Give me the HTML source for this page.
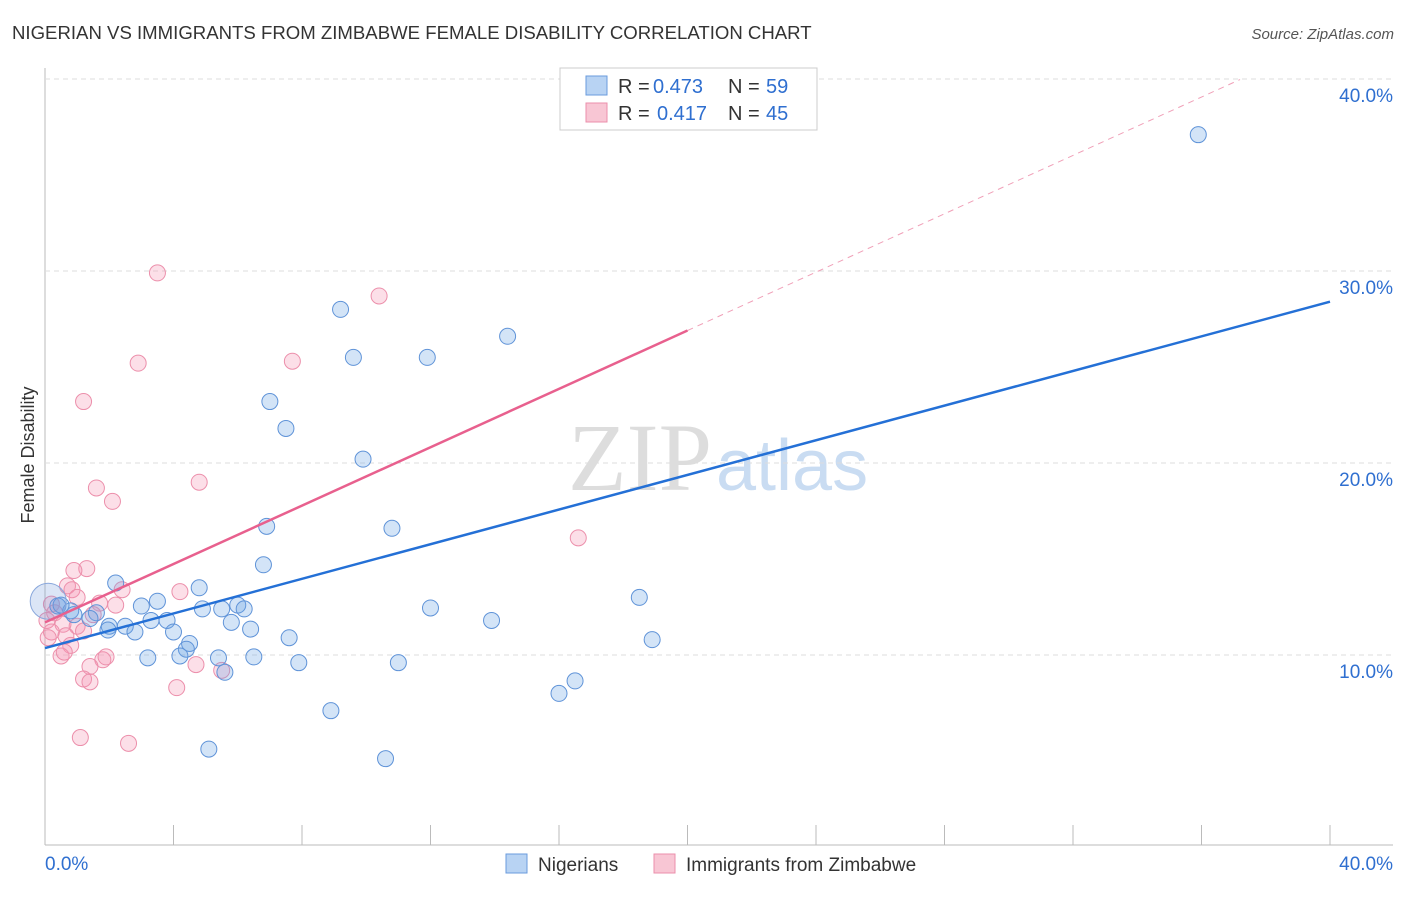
<!DOCTYPE html>
<html><head><meta charset="utf-8"><style>
body{margin:0;background:#fff;font-family:"Liberation Sans",sans-serif;}
</style></head><body>
<svg width="1406" height="892" id="chart" xmlns="http://www.w3.org/2000/svg">
<text x="12" y="39" font-size="18.6" fill="#333">NIGERIAN VS IMMIGRANTS FROM ZIMBABWE FEMALE DISABILITY CORRELATION CHART</text>
<text x="1394" y="39" font-size="15" fill="#555" font-style="italic" text-anchor="end">Source: ZipAtlas.com</text>
<text x="712" y="490" font-size="96" fill="#ddd" font-family="Liberation Serif,serif" text-anchor="end">ZIP</text>
<text x="716" y="490" font-size="72" fill="#c9dcf2">atlas</text>
<text transform="translate(34,455) rotate(-90)" font-size="18" fill="#333" text-anchor="middle">Female Disability</text>
<g id="grid"></g><g id="marks"></g>
<g>
<rect x="560" y="68" width="257" height="62" fill="#fff" stroke="#ccc"/>
<rect x="586" y="76" width="21" height="19" fill="#b8d3f3" stroke="#6a9bdc"/>
<rect x="586" y="103" width="21" height="19" fill="#f8c6d4" stroke="#eb8fab"/>
<text x="618" y="93" font-size="20" fill="#333">R =</text>
<text x="653" y="93" font-size="20" fill="#2f6fd0">0.473</text>
<text x="728" y="93" font-size="20" fill="#333">N =</text>
<text x="766" y="93" font-size="20" fill="#2f6fd0">59</text>
<text x="618" y="120" font-size="20" fill="#333">R =</text>
<text x="657" y="120" font-size="20" fill="#2f6fd0">0.417</text>
<text x="728" y="120" font-size="20" fill="#333">N =</text>
<text x="766" y="120" font-size="20" fill="#2f6fd0">45</text>
</g>
<g>
<rect x="506" y="854" width="21" height="19" fill="#b8d3f3" stroke="#6a9bdc"/>
<text x="538" y="871" font-size="19" fill="#333">Nigerians</text>
<rect x="654" y="854" width="21" height="19" fill="#f8c6d4" stroke="#eb8fab"/>
<text x="686" y="871" font-size="19" fill="#333">Immigrants from Zimbabwe</text>
</g>
</svg>
<script>
const yTicks=[10,20,30,40];
const xTickLabels=["0.0%","40.0%"];
const blueX=[35.9,14.4,9.2,9.6,11.9,7.0,7.5,9.9,6.9,10.8,6.8,2.2,4.8,18.5,3.5,3.0,6.0,12.0,4.9,5.5,6.2,1.6,0.4,0.8,13.9,3.3,3.8,5.8,2.5,2.0,1.96,2.8,4.0,6.4,7.6,18.9,4.5,4.4,4.2,3.2,5.4,6.5,7.9,11.0,5.6,16.5,16.0,8.9,5.1,10.6,0.5,1.4,0.9];
const blueY=[37.1,26.6,28.0,25.5,25.5,23.2,21.8,20.2,16.7,16.6,14.7,13.75,13.5,13.0,12.8,12.55,12.6,12.45,12.4,12.4,12.4,12.2,12.55,12.3,11.8,11.8,11.8,11.7,11.5,11.5,11.3,11.2,11.2,11.35,10.9,10.8,10.6,10.3,9.95,9.85,9.85,9.9,9.6,9.6,9.1,8.65,8.0,7.1,5.1,4.6,12.6,11.9,12.1];
const pinkX=[3.5,10.4,2.9,7.7,1.2,1.6,4.8,2.1,16.6,1.3,0.9,0.7,2.4,4.2,0.84,1.0,1.7,2.2,0.2,0.3,1.5,0.06,0.56,1.0,0.2,0.65,1.2,0.1,0.8,0.5,0.6,1.8,1.9,1.4,4.7,5.5,1.2,1.4,4.1,1.1,2.6];
const pinkY=[29.9,28.7,25.2,25.3,23.2,18.7,19.0,18.0,16.1,14.5,14.4,13.6,13.4,13.3,13.4,13.0,12.7,12.6,12.65,12.2,12.1,11.8,11.6,11.5,11.2,11.0,11.25,10.9,10.5,9.95,10.15,9.75,9.9,9.4,9.5,9.2,8.75,8.6,8.3,5.7,5.4];
const blueLine=[10.36,28.4];
const pinkLine=[11.7,26.9,20];
const X=v=>45+v/40*1285, Y=v=>847-v*19.2;
const NS="http://www.w3.org/2000/svg";
function mk(t,a,p){const e=document.createElementNS(NS,t);for(const k in a)e.setAttribute(k,a[k]);p.appendChild(e);return e;}
const g=document.getElementById('grid'),m=document.getElementById('marks');
mk('line',{x1:45,y1:68,x2:45,y2:845,stroke:'#bbb'},g);
mk('line',{x1:45,y1:845,x2:1393,y2:845,stroke:'#bbb'},g);
for(let i=0;i<=10;i++){const l=mk('line',{x1:X(i*4),y1:825,x2:X(i*4),y2:845,stroke:'#bbb'},g);

}
yTicks.forEach(t=>{const l=mk('line',{x1:45,y1:Y(t),x2:1393,y2:Y(t),stroke:'#ddd','stroke-dasharray':'5,4'},g);


const tx=mk('text',{x:1393,y:Y(t)+23,'font-size':19,fill:'#2f6fd0','text-anchor':'end'},g);tx.textContent=t.toFixed(1)+'%';

});
xTickLabels.forEach((s,i)=>{const tx=mk('text',{x:i?1393:45,y:870,'font-size':19,fill:'#2f6fd0','text-anchor':i?'end':'start'},g);tx.textContent=s;

});
pinkX.forEach((x,i)=>{const c=mk('circle',{cx:X(x),cy:Y(pinkY[i]),r:8,fill:'rgba(244,150,180,0.3)',stroke:'#ec8fab','stroke-width':1},m);

});
blueX.forEach((x,i)=>{const c=mk('circle',{cx:X(x),cy:Y(blueY[i]),r:8,fill:'rgba(110,165,230,0.3)',stroke:'#5f93d8','stroke-width':1},m);

});
const big=mk('circle',{cx:X(0.1),cy:Y(12.8),r:18,fill:'rgba(110,150,220,0.25)',stroke:'#8aa8dc'},m);


const slope=(pinkLine[1]-pinkLine[0])/pinkLine[2];
const pd=mk('line',{x1:X(pinkLine[2]),y1:Y(pinkLine[1]),x2:X(37.2),y2:Y(pinkLine[0]+slope*37.2),stroke:'#f0a0b8','stroke-dasharray':'6,5','stroke-width':1},m);


const pl=mk('line',{x1:X(0),y1:Y(pinkLine[0]),x2:X(pinkLine[2]),y2:Y(pinkLine[1]),stroke:'#e8608e','stroke-width':2.5},m);


const bl=mk('line',{x1:X(0),y1:Y(blueLine[0]),x2:X(40),y2:Y(blueLine[1]),stroke:'#2470d6','stroke-width':2.5},m);


</script>
</body></html>
